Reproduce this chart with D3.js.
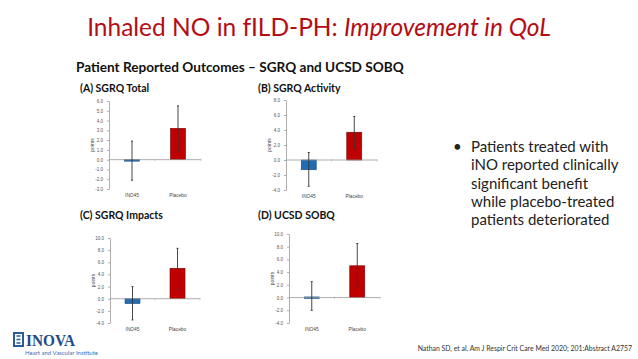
<!DOCTYPE html>
<html>
<head>
<meta charset="utf-8">
<script src="https://cdn.jsdelivr.net/npm/d3@7"></script>
<style>
  body { margin: 0; background: #fff; }
  svg { display: block; }
  .axis path, .axis line { stroke: #999; stroke-width: 0.8; }
  .axis text { font-family: "Liberation Sans", Arial, sans-serif; font-size: 4.5px; fill: #555; }
</style>
</head>
<body>
<svg id="slide"></svg>
<script>
// data
const categories = ["INO45", "Placebo"];
const panelTitles = ["(A) SGRQ Total", "(B) SGRQ Activity", "(C) SGRQ Impacts", "(D) UCSD SOBQ"];
const meanValues = [[-0.1, 3.2], [-1.3, 3.7], [-0.8, 5.0], [0.1, 5.0]];
const errHigh = [[1.9, 5.5], [1.0, 5.8], [2.0, 8.3], [2.5, 8.5]];
const errLow = [[-2.1, 0.8], [-3.5, 1.5], [-3.5, 1.7], [-2.0, 1.5]];
const yDomains = [[-3, 6], [-4, 8], [-4, 10], [-4, 10]];
const tickSteps = [1, 2, 2, 2];
const bulletLines = ["Patients treated with", "iNO reported clinically", "significant benefit", "while placebo-treated", "patients deteriorated"];

const W = 638, H = 359;
const svg = d3.select("#slide").attr("width", W).attr("height", H);

// layout for each small chart: axis x, plot width, top/bottom pixel of y range
const layout = [
    { ax: 109, w: 92, top: 101, bottom: 189, titleX: 80, titleY: 92 },
    { ax: 286, w: 91, top: 100, bottom: 190, titleX: 258, titleY: 92 },
    { ax: 110, w: 90, top: 238, bottom: 323, titleX: 80, titleY: 219 },
    { ax: 289, w: 91, top: 234, bottom: 323, titleX: 258, titleY: 219 }
];
const barColors = ["#1f6db3", "#c00000"];
const fmt = v => d3.format(".1f")(v).replace("\u2212", "-");

// title (centered on the slide)
const title = svg.append("text")
    .attr("x", W / 2).attr("y", 36)
    .attr("text-anchor", "middle")
    .attr("font-family", "Lato, 'Open Sans', sans-serif")
    .attr("font-size", "24.5px")
    .attr("fill", "#b40d14");
title.append("tspan").text("Inhaled NO in fILD-PH: ");
title.append("tspan").attr("font-style", "italic").text("Improvement in QoL");

svg.append("text")
    .attr("x", 76).attr("y", 72)
    .attr("font-family", "Lato, 'Open Sans', sans-serif")
    .attr("font-weight", "bold")
    .attr("font-size", "13.6px")
    .attr("fill", "#111")
    .text("Patient Reported Outcomes \u2013 SGRQ and UCSD SOBQ");

panelTitles.forEach(function(t, i) {
    let L = layout[i];

    svg.append("text")
        .attr("x", L.titleX).attr("y", L.titleY)
        .attr("font-family", "Lato, 'Open Sans', sans-serif")
        .attr("font-weight", "bold")
        .attr("font-size", "10.5px")
        .attr("fill", "#111")
        .text(t);

    let yScale = d3.scaleLinear().domain(yDomains[i]).range([L.bottom, L.top]);
    let xScale = d3.scalePoint().domain(categories).range([L.ax, L.ax + L.w]).padding(0.5);
    let ticks = d3.range(yDomains[i][0], yDomains[i][1] + 0.001, tickSteps[i]);

    let g = svg.append("g");

    g.append("g")
        .attr("class", "axis")
        .attr("transform", `translate(${L.ax},0)`)
        .call(d3.axisLeft(yScale).tickValues(ticks).tickFormat(fmt).tickSize(2).tickSizeOuter(0).tickPadding(4));

    // bars
    let barW = 15;
    g.selectAll(".bar")
        .data(categories)
        .enter()
        .append("rect")
            .attr("class", "bar")
            .attr("x", d => xScale(d) - barW / 2)
            .attr("width", barW)
            .attr("y", (d, j) => yScale(Math.max(0, meanValues[i][j])))
            .attr("height", (d, j) => Math.max(1.5, Math.abs(yScale(meanValues[i][j]) - yScale(0))))
            .attr("fill", (d, j) => barColors[j])
            .attr("stroke", (d, j) => j == 0 ? "#1b4f7e" : "#7a0000")
            .attr("stroke-width", 0.6);

    // zero line with category tick marks
    g.append("line")
        .attr("x1", L.ax).attr("x2", L.ax + L.w)
        .attr("y1", yScale(0)).attr("y2", yScale(0))
        .attr("stroke", "#999").attr("stroke-width", 0.8);
    [0.5, 1].forEach(f => {
        g.append("line")
            .attr("x1", L.ax + L.w * f).attr("x2", L.ax + L.w * f)
            .attr("y1", yScale(0) - 1).attr("y2", yScale(0) + 1.5)
            .attr("stroke", "#bbb").attr("stroke-width", 0.8);
    });

    // error bars
    g.selectAll(".err")
        .data(categories)
        .enter()
        .append("line")
            .attr("class", "err")
            .attr("x1", d => xScale(d)).attr("x2", d => xScale(d))
            .attr("y1", (d, j) => yScale(errHigh[i][j]))
            .attr("y2", (d, j) => yScale(errLow[i][j]))
            .attr("stroke", "#333").attr("stroke-width", 0.9);
    categories.forEach((c, j) => {
        [errHigh[i][j], errLow[i][j]].forEach(v => {
            g.append("line")
                .attr("x1", xScale(c) - 1).attr("x2", xScale(c) + 1)
                .attr("y1", yScale(v)).attr("y2", yScale(v))
                .attr("stroke", "#333").attr("stroke-width", 0.9);
        });
    });

    // category labels
    g.selectAll(".cat")
        .data(categories)
        .enter()
        .append("text")
            .attr("x", d => xScale(d))
            .attr("y", L.bottom + 8)
            .attr("text-anchor", "middle")
            .attr("font-family", "Liberation Sans, Arial, sans-serif")
            .attr("font-size", "4.8px")
            .attr("fill", "#444")
            .text(d => d);

    // y label
    g.append("text")
        .attr("transform", `translate(${L.ax - 15},${(L.top + L.bottom) / 2})rotate(-90)`)
        .attr("text-anchor", "middle")
        .attr("font-family", "Liberation Sans, Arial, sans-serif")
        .attr("font-size", "5px")
        .attr("fill", "#444")
        .text("points");
});

// bullet text
const bullet = svg.append("g")
    .attr("font-family", "Lato, 'Open Sans', sans-serif")
    .attr("font-size", "15px")
    .attr("fill", "#222");
bullet.append("text").attr("x", 453).attr("y", 152).text("\u2022");
bulletLines.forEach((t, i) => {
    bullet.append("text").attr("x", 471).attr("y", 152 + i * 18.3).text(t);
});

// logo
const logo = svg.append("g");
logo.append("rect").attr("x", 14).attr("y", 333).attr("width", 9).attr("height", 13)
    .attr("fill", "none").attr("stroke", "#2a5c9a").attr("stroke-width", 2);
logo.append("path").attr("d", "M16.5,336 h4 M16.5,339.5 h4 M16.5,343 h4")
    .attr("stroke", "#2a5c9a").attr("stroke-width", 1.4);
logo.append("text").attr("x", 26).attr("y", 345.5)
    .attr("font-family", "'Liberation Serif', serif")
    .attr("font-weight", "bold")
    .attr("font-size", "17px")
    .attr("textLength", 49)
    .attr("lengthAdjust", "spacingAndGlyphs")
    .attr("fill", "#1e4a8a")
    .text("INOVA");
logo.append("text").attr("x", 25).attr("y", 355)
    .attr("font-family", "Lato, sans-serif")
    .attr("font-size", "6px")
    .attr("fill", "#3a6db0")
    .text("Heart and Vascular Institute");

// citation
svg.append("text")
    .attr("x", 632).attr("y", 351)
    .attr("text-anchor", "end")
    .attr("font-family", "Lato, 'Open Sans', sans-serif")
    .attr("font-size", "6.9px")
    .attr("fill", "#333")
    .text("Nathan SD, et al. Am J Respir Crit Care Med 2020; 201:Abstract A2757");
</script>
</body>
</html>
